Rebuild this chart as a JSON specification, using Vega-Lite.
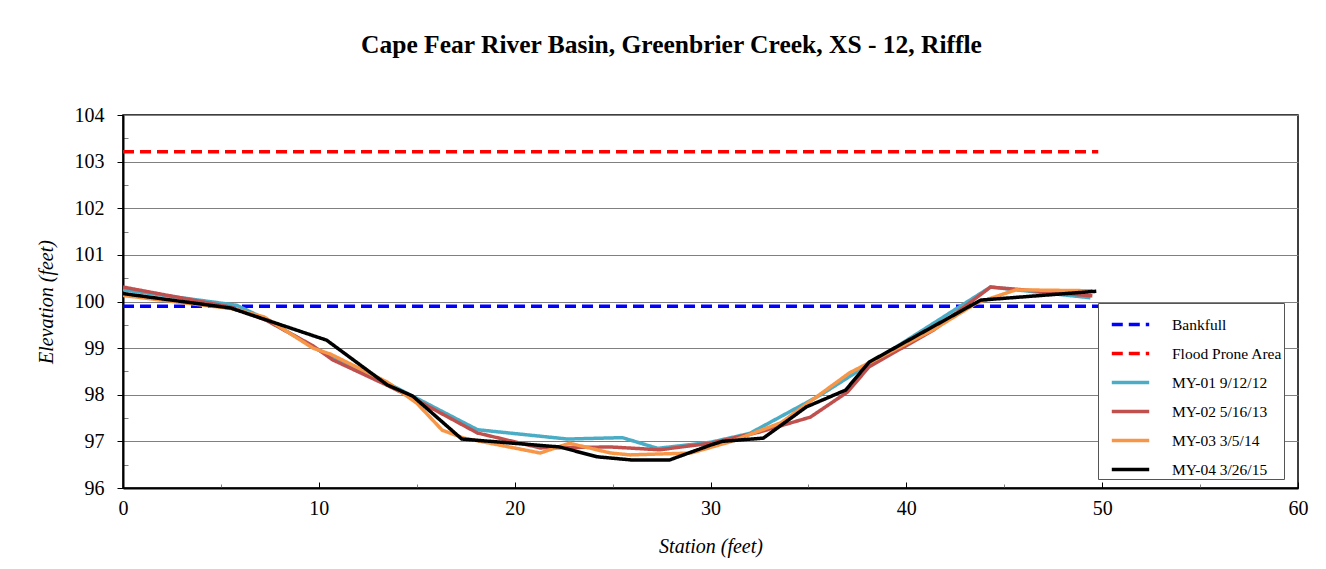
{
  "$schema": "https://vega.github.io/schema/vega-lite/v6.json",
  "autosize": {"type": "none"},
  "padding": {"left": 123, "top": 115, "right": 28, "bottom": 81},
  "width": 1175,
  "height": 373,
  "background": "white",
  "config": {
    "font": "Liberation Serif",
    "view": {"stroke": "black", "strokeWidth": 1.5}
  },
  "title": {
    "text": "Cape Fear River Basin, Greenbrier Creek, XS - 12, Riffle",
    "font": "Liberation Serif",
    "fontSize": 25.5,
    "fontWeight": "bold",
    "color": "black",
    "anchor": "middle",
    "dx": -39,
    "offset": 47
  },
  "datasets": {
    "ref": [
      {"series": "Bankfull", "station": 0, "elev": 99.9},
      {"series": "Bankfull", "station": 49.8, "elev": 99.9},
      {"series": "Flood Prone Area", "station": 0, "elev": 103.21},
      {"series": "Flood Prone Area", "station": 49.8, "elev": 103.21}
    ],
    "survey": [
      {"series": "MY-01 9/12/12", "station": 0, "elev": 100.25},
      {"series": "MY-01 9/12/12", "station": 5.8, "elev": 99.92},
      {"series": "MY-01 9/12/12", "station": 7.3, "elev": 99.62},
      {"series": "MY-01 9/12/12", "station": 9.9, "elev": 98.98},
      {"series": "MY-01 9/12/12", "station": 13.5, "elev": 98.25},
      {"series": "MY-01 9/12/12", "station": 14.7, "elev": 97.99},
      {"series": "MY-01 9/12/12", "station": 18.1, "elev": 97.25},
      {"series": "MY-01 9/12/12", "station": 22.7, "elev": 97.05},
      {"series": "MY-01 9/12/12", "station": 25.5, "elev": 97.08},
      {"series": "MY-01 9/12/12", "station": 27.3, "elev": 96.85},
      {"series": "MY-01 9/12/12", "station": 30.0, "elev": 96.98},
      {"series": "MY-01 9/12/12", "station": 32.0, "elev": 97.17},
      {"series": "MY-01 9/12/12", "station": 35.6, "elev": 97.99},
      {"series": "MY-01 9/12/12", "station": 44.3, "elev": 100.31},
      {"series": "MY-01 9/12/12", "station": 49.4, "elev": 100.08},
      {"series": "MY-02 5/16/13", "station": 0, "elev": 100.31},
      {"series": "MY-02 5/16/13", "station": 5.5, "elev": 99.88},
      {"series": "MY-02 5/16/13", "station": 7.3, "elev": 99.6},
      {"series": "MY-02 5/16/13", "station": 9.7, "elev": 99.05},
      {"series": "MY-02 5/16/13", "station": 10.7, "elev": 98.75},
      {"series": "MY-02 5/16/13", "station": 13.5, "elev": 98.2},
      {"series": "MY-02 5/16/13", "station": 14.8, "elev": 97.93},
      {"series": "MY-02 5/16/13", "station": 18.1, "elev": 97.18},
      {"series": "MY-02 5/16/13", "station": 21.3, "elev": 96.86},
      {"series": "MY-02 5/16/13", "station": 24.9, "elev": 96.88},
      {"series": "MY-02 5/16/13", "station": 27.4, "elev": 96.82},
      {"series": "MY-02 5/16/13", "station": 30.0, "elev": 96.96},
      {"series": "MY-02 5/16/13", "station": 32.5, "elev": 97.2},
      {"series": "MY-02 5/16/13", "station": 35.1, "elev": 97.52},
      {"series": "MY-02 5/16/13", "station": 37.0, "elev": 98.06},
      {"series": "MY-02 5/16/13", "station": 38.1, "elev": 98.6},
      {"series": "MY-02 5/16/13", "station": 41.4, "elev": 99.39},
      {"series": "MY-02 5/16/13", "station": 44.3, "elev": 100.31},
      {"series": "MY-02 5/16/13", "station": 45.4, "elev": 100.27},
      {"series": "MY-02 5/16/13", "station": 49.5, "elev": 100.12},
      {"series": "MY-03 3/5/14", "station": 0, "elev": 100.13},
      {"series": "MY-03 3/5/14", "station": 5.5, "elev": 99.85},
      {"series": "MY-03 3/5/14", "station": 7.2, "elev": 99.67},
      {"series": "MY-03 3/5/14", "station": 9.7, "elev": 99.0},
      {"series": "MY-03 3/5/14", "station": 10.6, "elev": 98.87},
      {"series": "MY-03 3/5/14", "station": 13.5, "elev": 98.27},
      {"series": "MY-03 3/5/14", "station": 15.0, "elev": 97.82},
      {"series": "MY-03 3/5/14", "station": 16.3, "elev": 97.24},
      {"series": "MY-03 3/5/14", "station": 17.4, "elev": 97.07},
      {"series": "MY-03 3/5/14", "station": 21.3, "elev": 96.75},
      {"series": "MY-03 3/5/14", "station": 22.8, "elev": 96.96},
      {"series": "MY-03 3/5/14", "station": 24.9, "elev": 96.75},
      {"series": "MY-03 3/5/14", "station": 25.9, "elev": 96.71},
      {"series": "MY-03 3/5/14", "station": 29.0, "elev": 96.75},
      {"series": "MY-03 3/5/14", "station": 31.0, "elev": 96.99},
      {"series": "MY-03 3/5/14", "station": 33.6, "elev": 97.4},
      {"series": "MY-03 3/5/14", "station": 37.1, "elev": 98.47},
      {"series": "MY-03 3/5/14", "station": 41.4, "elev": 99.4},
      {"series": "MY-03 3/5/14", "station": 43.6, "elev": 99.97},
      {"series": "MY-03 3/5/14", "station": 45.6, "elev": 100.25},
      {"series": "MY-03 3/5/14", "station": 49.5, "elev": 100.23},
      {"series": "MY-04 3/26/15", "station": 0, "elev": 100.17},
      {"series": "MY-04 3/26/15", "station": 5.5, "elev": 99.86},
      {"series": "MY-04 3/26/15", "station": 10.4, "elev": 99.17},
      {"series": "MY-04 3/26/15", "station": 13.5, "elev": 98.21},
      {"series": "MY-04 3/26/15", "station": 14.8, "elev": 97.97},
      {"series": "MY-04 3/26/15", "station": 17.3, "elev": 97.05},
      {"series": "MY-04 3/26/15", "station": 22.3, "elev": 96.88},
      {"series": "MY-04 3/26/15", "station": 24.2, "elev": 96.67},
      {"series": "MY-04 3/26/15", "station": 26.0, "elev": 96.6},
      {"series": "MY-04 3/26/15", "station": 27.9, "elev": 96.6},
      {"series": "MY-04 3/26/15", "station": 30.0, "elev": 96.92},
      {"series": "MY-04 3/26/15", "station": 30.6, "elev": 97.0},
      {"series": "MY-04 3/26/15", "station": 32.7, "elev": 97.07},
      {"series": "MY-04 3/26/15", "station": 34.9, "elev": 97.74},
      {"series": "MY-04 3/26/15", "station": 36.9, "elev": 98.1},
      {"series": "MY-04 3/26/15", "station": 38.1, "elev": 98.7},
      {"series": "MY-04 3/26/15", "station": 43.8, "elev": 100.03},
      {"series": "MY-04 3/26/15", "station": 49.7, "elev": 100.22}
    ]
  },
  "layer": [
    {
      "data": {"name": "ref"},
      "mark": {"type": "line", "clip": true},
      "encoding": {
        "x": {
          "field": "station", "type": "quantitative",
          "scale": {"domain": [0, 60], "nice": false, "zero": false},
          "axis": {
            "orient": "bottom", "values": [5, 15, 25, 35, 45, 55],
            "labels": false, "domain": false, "grid": false, "title": null,
            "tickSize": -4, "tickColor": "#808080", "tickWidth": 1
          }
        },
        "y": {
          "field": "elev", "type": "quantitative",
          "scale": {"domain": [96, 104], "nice": false, "zero": false},
          "axis": {
            "orient": "left", "values": [96.5, 97.5, 98.5, 99.5, 100.5, 101.5, 102.5, 103.5],
            "labels": false, "domain": false, "grid": false, "title": null,
            "tickSize": -5, "tickColor": "#808080", "tickWidth": 1
          }
        },
        "color": {"field": "series", "type": "nominal"},
        "strokeDash": {"field": "series", "type": "nominal"},
        "strokeWidth": {"field": "series", "type": "nominal"}
      }
    },
    {
      "data": {"name": "survey"},
      "mark": {"type": "line", "clip": true, "strokeJoin": "miter"},
      "encoding": {
        "x": {
          "field": "station", "type": "quantitative",
          "axis": {
            "orient": "bottom", "values": [0, 10, 20, 30, 40, 50, 60],
            "title": "Station (feet)", "titleFont": "Liberation Serif", "titleFontSize": 20,
            "titleFontStyle": "italic", "titleFontWeight": "normal", "titleColor": "black",
            "titlePadding": 18,
            "labelFont": "Liberation Serif", "labelFontSize": 20, "labelColor": "black",
            "labelPadding": 16, "labelFlush": false,
            "tickSize": -6, "tickColor": "black", "tickWidth": 1,
            "domainColor": "black", "domainWidth": 2, "grid": false
          }
        },
        "y": {
          "field": "elev", "type": "quantitative",
          "axis": {
            "orient": "left", "values": [96, 97, 98, 99, 100, 101, 102, 103, 104],
            "title": "Elevation (feet)", "titleFont": "Liberation Serif", "titleFontSize": 20,
            "titleFontStyle": "italic", "titleFontWeight": "normal", "titleColor": "black",
            "titlePadding": 18,
            "labelFont": "Liberation Serif", "labelFontSize": 20, "labelColor": "black",
            "labelPadding": 13, "labelFlush": false,
            "tickSize": 6, "tickColor": "black", "tickWidth": 1,
            "domainColor": "black", "domainWidth": 2,
            "grid": true, "gridColor": "#808080", "gridWidth": 1
          }
        },
        "color": {
          "field": "series", "type": "nominal",
          "scale": {
            "domain": ["Bankfull", "Flood Prone Area", "MY-01 9/12/12", "MY-02 5/16/13", "MY-03 3/5/14", "MY-04 3/26/15"],
            "range": ["#0000FF", "#FF0000", "#4BACC6", "#C0504D", "#F79646", "#000000"]
          },
          "legend": {
            "orient": "none", "legendX": 975, "legendY": 188,
            "title": null,
            "labelFont": "Liberation Serif", "labelFontSize": 15.5, "labelColor": "black",
            "labelOffset": 21, "labelLimit": 200,
            "symbolType": "stroke", "symbolSize": 1400, "symbolOffset": 11,
            "rowPadding": 0,
            "padding": 1,
            "strokeColor": "#555555", "fillColor": "white",
            "offset": 0
          }
        },
        "strokeDash": {
          "field": "series", "type": "nominal",
          "scale": {
            "domain": ["Bankfull", "Flood Prone Area", "MY-01 9/12/12", "MY-02 5/16/13", "MY-03 3/5/14", "MY-04 3/26/15"],
            "range": [[11, 6], [11, 6], [1, 0], [1, 0], [1, 0], [1, 0]]
          }
        },
        "strokeWidth": {
          "field": "series", "type": "nominal",
          "scale": {
            "domain": ["Bankfull", "Flood Prone Area", "MY-01 9/12/12", "MY-02 5/16/13", "MY-03 3/5/14", "MY-04 3/26/15"],
            "range": [3.5, 3.5, 5, 4, 4.5, 4.5]
          }
        }
      }
    }
  ],
  "resolve": {
    "scale": {"x": "shared", "y": "shared"},
    "axis": {"x": "independent", "y": "independent"}
  }
}
